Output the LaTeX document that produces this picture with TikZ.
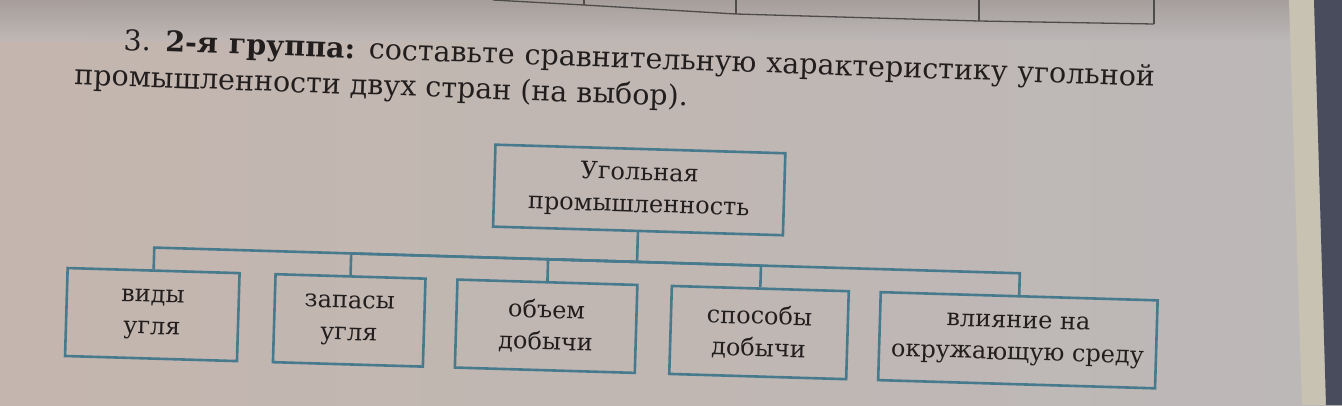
\documentclass[tikz,border=0pt]{standalone}
\usepackage{fontspec}
\setmainfont{DejaVu Serif}
\definecolor{paper}{RGB}{188,184,184}
\definecolor{paperwarm}{RGB}{196,182,174}
\definecolor{papershade}{RGB}{155,148,145}
\definecolor{boxblue}{RGB}{72,122,142}
\definecolor{ink}{RGB}{34,30,30}
\definecolor{cover}{RGB}{72,76,92}
\definecolor{pageedge}{RGB}{200,194,178}
\newcommand{\headfont}{\fontsize{28.5}{34}\selectfont}
\newcommand{\boxfont}{\fontsize{24}{32}\selectfont}

\begin{document}
\begin{tikzpicture}[x=1pt, y=-1pt]
            \tikzset{box/.style={draw=boxblue, line width=2.6pt, minimum height=88pt, align=center, font=\boxfont, text=ink, inner sep=2pt},
                     topbox/.style={box, minimum width=290pt, minimum height=82pt},
                     link/.style={draw=boxblue, line width=2.6pt},
                     headline/.style={anchor=base west, inner sep=0pt, font=\headfont, text=ink},
                     rule/.style={draw=ink!80, line width=1.3pt}}
                    \useasboundingbox (0,0) rectangle (1342,405);
                    \shade[left color=paperwarm, right color=paper] (0,0) rectangle (1342,405);
                    \shade[top color=papershade, bottom color=paper, opacity=0.7] (0,0) rectangle (1342,40);
                    \fill[pageedge] (1289,0) -- (1314,0) -- (1326,405) -- (1302,405) -- cycle;
                    \fill[cover] (1314,0) -- (1342,0) -- (1342,405) -- (1326,405) -- cycle;
                    \draw[rule] (493,0) -- (584,5) -- (736,14) -- (979,21) -- (1154,24);
                    \draw[rule] (584,0) -- (584,5);
                    \draw[rule] (736,0) -- (736,14);
                    \draw[rule] (979,0) -- (979,21);
                    \draw[rule] (1154,0) -- (1154,24);
                    \begin{scope}[rotate around={-2:(430,61)}, transform shape]
                        \node[headline] (line1) at (123,61) {\makebox[1032pt][s]{3. \textbf{2-я группа:} составьте сравнительную характеристику угольной}};
                        \node[headline] (line2) at (75,97) {промышленности двух стран (на выбор).};
                    \end{scope}
                    \begin{scope}[rotate around={-1.7:(640,264)}, transform shape]
                        \node[topbox] (coal) at (637,190) {Угольная\\промышленность};
                        \coordinate (fork) at (637,262);
                        \node[box, minimum width=172pt] (kinds) at (154,329) {виды\\угля};
                        \node[box, minimum width=150pt] (reserves) at (351,329) {запасы\\угля};
                        \node[box, minimum width=180pt] (volume) at (548,329) {объем\\добычи};
                        \node[box, minimum width=177pt] (methods) at (761,329) {способы\\добычи};
                        \node[box, minimum width=277pt] (impact) at (1020,329) {влияние на\\окружающую среду};
                        \draw[link] (coal) -- (fork);
                        \draw[link] (fork) -| (kinds);
                        \draw[link] (fork) -| (reserves);
                        \draw[link] (fork) -| (volume);
                        \draw[link] (fork) -| (methods);
                        \draw[link] (fork) -| (impact);
                    \end{scope}
\end{tikzpicture}
\end{document}
